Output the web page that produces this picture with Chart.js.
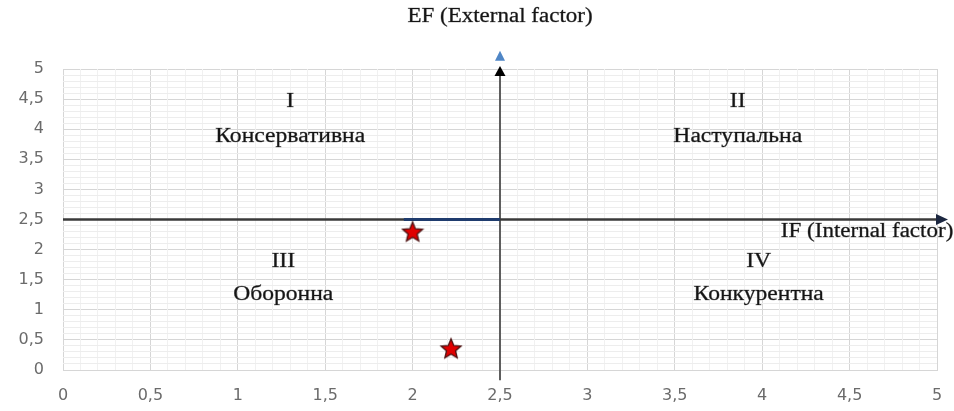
<!DOCTYPE html>
<html>
<head>
<meta charset="utf-8">
<script src="https://cdn.jsdelivr.net/npm/chart.js@4/dist/chart.umd.min.js"></script>
<style>
html,body{margin:0;padding:0;background:#fff;}
#wrap{width:954px;height:411px;position:relative;}
</style>
</head>
<body>
<div id="wrap"><canvas id="c" width="954" height="411"></canvas></div>
<script>
// ---- data ----
const starX = [2, 2.22];
const starY = [2.3, 0.36];
const axisMin = 0;
const axisMax = 5;
const centerX = 2.5;
const centerY = 2.5;
const hAxisEnd = 5.04;
const vAxisStart = -0.17;
const segmentX = [1.95, 2.5];
const quadrantNumerals = ['I', 'II', 'III', 'IV'];
const quadrantNames = ['Консервативна', 'Наступальна', 'Оборонна', 'Конкурентна'];
const quadrantX = [1.3, 3.86, 1.26, 3.98];
const numeralY = [4.45, 4.45, 1.8, 1.8];
const nameY = [3.87, 3.87, 1.25, 1.25];
const titleText = 'EF (External factor)';
const xAxisText = 'IF (Internal factor)';
const xAxisTextPos = [4.6, 2.3];

function makeStar(size, fill, stroke) {
  const c = document.createElement('canvas');
  c.width = size; c.height = size;
  const g = c.getContext('2d');
  const cx = size / 2, cy = size / 2 + 1, R = size / 2 - 1.5, r = R * 0.45;
  g.beginPath();
  for (let i = 0; i < 10; i++) {
    const rad = i % 2 === 0 ? R : r;
    const a = -Math.PI / 2 + i * Math.PI / 5;
    const px = cx + rad * Math.cos(a), py = cy + rad * Math.sin(a);
    if (i === 0) g.moveTo(px, py); else g.lineTo(px, py);
  }
  g.closePath();
  g.fillStyle = fill; g.fill();
  g.lineWidth = 1.3; g.strokeStyle = stroke; g.stroke();
  return c;
}
const starImg = makeStar(24, '#e00000', '#4a1010');

const fmt = v => String(Math.round(v * 10) / 10).replace('.', ',');
const isMajor = v => Math.abs(v * 2 - Math.round(v * 2)) < 1e-6;

const SERIF = '"Liberation Serif", "DejaVu Serif", serif';
function stretchedText(ctx, text, px, py, stretch) {
  ctx.save();
  ctx.translate(px, py);
  ctx.scale(stretch, 1);
  ctx.strokeText(text, 0, 0);
  ctx.fillText(text, 0, 0);
  ctx.restore();
}

const overlayPlugin = {
  id: 'overlay',
  afterDatasetsDraw(chart) {
    const {ctx, scales: {x, y}} = chart;
    ctx.save();
    const hx = x.getPixelForValue(hAxisEnd), hy = y.getPixelForValue(centerY);
    ctx.fillStyle = '#1c2740';
    ctx.beginPath();
    ctx.moveTo(hx + 4, hy); ctx.lineTo(hx - 8, hy - 5.5); ctx.lineTo(hx - 8, hy + 5.5); ctx.closePath(); ctx.fill();
    const vx = x.getPixelForValue(centerX), vy = y.getPixelForValue(axisMax);
    ctx.fillStyle = '#000';
    ctx.beginPath();
    ctx.moveTo(vx, vy - 3); ctx.lineTo(vx - 5.5, vy + 7); ctx.lineTo(vx + 5.5, vy + 7); ctx.closePath(); ctx.fill();
    const ty = y.getPixelForValue(5.22);
    ctx.fillStyle = '#4f86c6';
    ctx.beginPath();
    ctx.moveTo(vx, ty - 5); ctx.lineTo(vx - 5, ty + 5); ctx.lineTo(vx + 5, ty + 5); ctx.closePath(); ctx.fill();

    ctx.fillStyle = '#151515';
    ctx.strokeStyle = 'rgba(21,21,21,0.55)';
    ctx.lineWidth = 0.5;
    ctx.textAlign = 'center';
    ctx.textBaseline = 'middle';
    ctx.font = '20px ' + SERIF;
    for (let i = 0; i < quadrantNumerals.length; i++) {
      stretchedText(ctx, quadrantNumerals[i], x.getPixelForValue(quadrantX[i]), y.getPixelForValue(numeralY[i]), 1.18);
      stretchedText(ctx, quadrantNames[i], x.getPixelForValue(quadrantX[i]), y.getPixelForValue(nameY[i]), 1.18);
    }
    stretchedText(ctx, xAxisText, x.getPixelForValue(xAxisTextPos[0]), y.getPixelForValue(xAxisTextPos[1]), 1.15);
    stretchedText(ctx, titleText, x.getPixelForValue(centerX), 17, 1.15);
    ctx.restore();
  }
};

new Chart(document.getElementById('c'), {
  type: 'scatter',
  data: {
    datasets: [
      {
        type: 'line', label: 'hAxis',
        data: [{x: axisMin, y: centerY}, {x: hAxisEnd, y: centerY}],
        borderColor: '#3a3a3a', borderWidth: 2.5, pointRadius: 0,
        clip: false, order: 3
      },
      {
        type: 'line', label: 'vAxis',
        data: [{x: centerX, y: vAxisStart}, {x: centerX, y: axisMax}],
        borderColor: '#5e5e5e', borderWidth: 2, pointRadius: 0,
        clip: false, order: 3
      },
      {
        type: 'line', label: 'segment',
        data: segmentX.map(v => ({x: v, y: centerY})),
        borderColor: '#1f3c6e', borderWidth: 3, pointRadius: 0,
        clip: false, order: 2
      },
      {
        label: 'points',
        data: starX.map((v, i) => ({x: v, y: starY[i]})),
        pointStyle: starImg, pointRadius: 12, order: 1
      }
    ]
  },
  options: {
    responsive: false,
    animation: false,
    layout: {padding: {left: 0, right: 17, top: 69, bottom: 0}},
    plugins: {
      legend: {display: false},
      tooltip: {enabled: false},
      title: {display: false}
    },
    scales: {
      x: {
        type: 'linear', min: axisMin, max: axisMax, position: 'bottom',
        ticks: {stepSize: 0.5, callback: fmt, color: '#6b6b6b', padding: 16,
          font: {family: '"DejaVu Sans", sans-serif', size: 16}},
        grid: {color: '#d6d6d6', lineWidth: 1, drawTicks: false},
        border: {display: true, color: '#d6d6d6'},
        afterFit: s => { s.height = 41; s.paddingLeft = 0; s.paddingRight = 0; }
      },
      y: {
        type: 'linear', min: axisMin, max: axisMax, position: 'left',
        ticks: {stepSize: 0.5, callback: fmt, color: '#6b6b6b', padding: 19,
          font: {family: '"DejaVu Sans", sans-serif', size: 16}},
        grid: {color: '#d6d6d6', lineWidth: 1, drawTicks: false},
        border: {display: false},
        afterFit: s => { s.width = 63; s.paddingTop = 0; s.paddingBottom = 0; }
      },
      x2: {
        type: 'linear', min: axisMin, max: axisMax, position: 'bottom', display: true,
        ticks: {display: false, stepSize: 0.1},
        grid: {drawTicks: false, color: c => isMajor(c.tick.value) ? 'rgba(0,0,0,0)' : '#f1f1f1'},
        border: {display: false},
        afterFit: s => { s.height = 0; s.paddingLeft = 0; s.paddingRight = 0; }
      },
      y2: {
        type: 'linear', min: axisMin, max: axisMax, position: 'left', display: true,
        ticks: {display: false, stepSize: 0.1},
        grid: {drawTicks: false, color: c => isMajor(c.tick.value) ? 'rgba(0,0,0,0)' : '#ededed'},
        border: {display: false},
        afterFit: s => { s.width = 0; }
      }
    }
  },
  plugins: [overlayPlugin]
});
</script>
</body>
</html>
